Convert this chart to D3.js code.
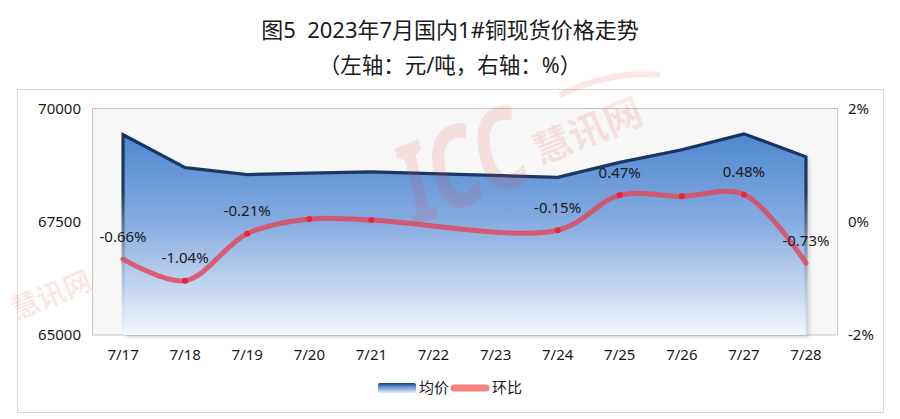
<!DOCTYPE html>
<html><head><meta charset="utf-8">
<script src="https://cdn.jsdelivr.net/npm/d3@7"></script>
<style>
html,body{margin:0;padding:0;background:#fff;}
svg{display:block;}
text{font-family:"Noto Sans","Noto Sans CJK SC",sans-serif;}
</style></head>
<body>
<svg id="chart" width="900" height="419"></svg>
<script>
const titleText = "图5  2023年7月国内1#铜现货价格走势";
const subtitleText = "（左轴：元/吨，右轴：%）";
const dates = ["7/17","7/18","7/19","7/20","7/21","7/22","7/23","7/24","7/25","7/26","7/27","7/28"];
const avgPrice = [69420, 68694, 68540, 68575, 68600, null, null, 68480, 68810, 69090, 69440, 68935];
const changePct = [-0.66, -1.04, -0.21, 0.05, 0.03, null, null, -0.15, 0.47, 0.45, 0.48, -0.73];
const labelShown = [true, true, true, false, false, false, false, true, true, false, true, true];
const leftTicks = [65000, 67500, 70000];
const rightTicks = [-2, 0, 2];
const seriesNames = ["均价", "环比"];

const svg = d3.select("#chart");
const W = 900, H = 419;
const plot = {left: 92, right: 837, top: 108.5, bottom: 335};
const pct = v => (v < 0 ? "-" : "") + Math.abs(v).toFixed(2) + "%";

const defs = svg.append("defs");
const fillGrad = defs.append("linearGradient").attr("id","areaFill")
  .attr("gradientUnits","userSpaceOnUse").attr("x1",0).attr("x2",0).attr("y1",130).attr("y2",335);
fillGrad.append("stop").attr("offset","0").attr("stop-color","#4b85cf");
fillGrad.append("stop").attr("offset","0.45").attr("stop-color","#86ace0");
fillGrad.append("stop").attr("offset","0.8").attr("stop-color","#c9daf1");
fillGrad.append("stop").attr("offset","1").attr("stop-color","#f5f8fd");
const strokeGrad = defs.append("linearGradient").attr("id","areaStroke")
  .attr("gradientUnits","userSpaceOnUse").attr("x1",0).attr("x2",0).attr("y1",130).attr("y2",335);
strokeGrad.append("stop").attr("offset","0").attr("stop-color","#16325c");
strokeGrad.append("stop").attr("offset","0.3").attr("stop-color","#1d3b66");
strokeGrad.append("stop").attr("offset","1").attr("stop-color","#dfe8f5").attr("stop-opacity",0.2);
const legGrad = defs.append("linearGradient").attr("id","legFill").attr("x1",0).attr("x2",0).attr("y1",0).attr("y2",1);
legGrad.append("stop").attr("offset","0").attr("stop-color","#1d3b66");
legGrad.append("stop").attr("offset","0.35").attr("stop-color","#5a8ad0");
legGrad.append("stop").attr("offset","1").attr("stop-color","#e6eef9");
const shadow = defs.append("filter").attr("id","shadow").attr("x","-10%").attr("y","-10%").attr("width","120%").attr("height","120%");
shadow.append("feDropShadow").attr("dx",3).attr("dy",2).attr("stdDeviation",2).attr("flood-color","#000").attr("flood-opacity",0.18);

// background
svg.append("rect").attr("width",W).attr("height",H).attr("fill","#fff");

// titles
svg.append("text").attr("x",450).attr("y",38).attr("text-anchor","middle")
  .attr("font-family","'Noto Sans CJK SC',sans-serif").attr("font-size",22).attr("fill","#1a1a1a")
  .attr("xml:space","preserve").text(titleText);
svg.append("text").attr("x",450).attr("y",73).attr("text-anchor","middle")
  .attr("font-family","'Noto Sans CJK SC',sans-serif").attr("font-size",21.5).attr("fill","#1a1a1a")
  .text(subtitleText);

// frame
svg.append("rect").attr("x",17.5).attr("y",89.5).attr("width",866).attr("height",323)
  .attr("fill","#fff").attr("stroke","#d9d9d9").attr("stroke-width",1);

// plot area
svg.append("rect").attr("x",plot.left+0.5).attr("y",plot.top).attr("width",plot.right-plot.left).attr("height",plot.bottom-plot.top)
  .attr("fill","#f7f7f7").attr("stroke","#c4c4c4").attr("stroke-width",1);

const x = d3.scaleBand().domain(dates).range([plot.left, plot.right]).padding(0);
const cx = d => x(d) + x.bandwidth()/2;
const yL = d3.scaleLinear().domain([65000, 70000]).range([plot.bottom, plot.top]);
const yR = d3.scaleLinear().domain([-2, 2]).range([plot.bottom, plot.top]);

// area
const priceData = dates.map((d,i)=>({d, v: avgPrice[i]})).filter(p=>p.v!==null);
const area = d3.area().x(p=>cx(p.d)).y0(plot.bottom).y1(p=>yL(p.v));
svg.append("path").datum(priceData).attr("d",area).attr("fill","url(#areaFill)")
  .attr("filter","url(#shadow)");
const outline = d3.line().x(p=>p[0]).y(p=>p[1]);
const pts = [[cx(priceData[0].d), plot.bottom]].concat(priceData.map(p=>[cx(p.d), yL(p.v)])).concat([[cx(priceData[priceData.length-1].d), plot.bottom]]);
svg.append("path").attr("d",outline(pts)).attr("fill","none").attr("stroke","url(#areaStroke)")
  .attr("stroke-width",3.2).attr("stroke-linejoin","miter");

// watermarks
const wm = svg.append("g").attr("fill","#e03a3a").attr("fill-opacity",0.13).attr("font-family","'Noto Sans CJK SC',sans-serif").attr("font-weight","bold");
wm.append("text").attr("transform","translate(412,228) rotate(-22) skewX(-8)").attr("font-size",112).attr("textLength",130).attr("lengthAdjust","spacingAndGlyphs").text("ICC");
wm.append("text").attr("transform","translate(540,165) rotate(-22)").attr("font-size",38).text("慧讯网");
wm.append("text").attr("transform","translate(16,320) rotate(-22)").attr("font-size",28).text("慧讯网");
wm.append("path").attr("d","M 560 95 Q 610 70 660 75").attr("fill","none").attr("stroke","#e03a3a").attr("stroke-opacity",0.13).attr("stroke-width",6);

// change line
const chgData = dates.map((d,i)=>({d, v: changePct[i], show: labelShown[i]})).filter(p=>p.v!==null);
const line = d3.line().x(p=>cx(p.d)).y(p=>yR(p.v)).curve(d3.curveCatmullRom.alpha(0.5));
svg.append("path").datum(chgData).attr("d",line).attr("fill","none")
  .attr("stroke","#e04a5e").attr("stroke-opacity",0.85).attr("stroke-width",5).attr("stroke-linecap","round");
svg.selectAll("circle.m").data(chgData.filter(p=>p.d!=="7/17" && p.d!=="7/28")).enter().append("circle")
  .attr("class","m").attr("cx",p=>cx(p.d)).attr("cy",p=>yR(p.v)).attr("r",3).attr("fill","#e8243a");

// data labels
svg.selectAll("text.lbl").data(chgData.filter(p=>p.show)).enter().append("text")
  .attr("class","lbl").attr("x",p=>cx(p.d)).attr("y",p=>yR(p.v)-17.5).attr("text-anchor","middle")
  .attr("font-size",15).attr("fill","#1a1a1a").text(p=>pct(p.v));

// axes
const axL = svg.append("g").attr("transform",`translate(${plot.left},0)`)
  .call(d3.axisLeft(yL).tickValues(leftTicks).tickSize(0).tickPadding(11).tickFormat(d3.format("d")));
const axR = svg.append("g").attr("transform",`translate(${plot.right},0)`)
  .call(d3.axisRight(yR).tickValues(rightTicks).tickSize(0).tickPadding(11).tickFormat(d=>(d<0?"-":"")+Math.abs(d)+"%"));
const axB = svg.append("g").attr("transform",`translate(0,${plot.bottom})`)
  .call(d3.axisBottom(x).tickSize(0).tickPadding(14));
[axL, axR, axB].forEach(a=>{
  a.select(".domain").remove();
  a.selectAll("text").attr("font-size",15).attr("fill","#1a1a1a").attr("font-family","'Noto Sans',sans-serif");
});

// legend
const lg = svg.append("g");
lg.append("rect").attr("x",378).attr("y",383).attr("width",38).attr("height",10).attr("rx",2)
  .attr("fill","url(#legFill)");
lg.append("text").attr("x",419).attr("y",393).attr("font-size",15).attr("fill","#1a1a1a")
  .attr("font-family","'Noto Sans CJK SC',sans-serif").text(seriesNames[0]);
lg.append("line").attr("x1",454).attr("x2",486).attr("y1",388).attr("y2",388)
  .attr("stroke","#f98080").attr("stroke-width",7).attr("stroke-linecap","round");
lg.append("text").attr("x",492).attr("y",393).attr("font-size",15).attr("fill","#1a1a1a")
  .attr("font-family","'Noto Sans CJK SC',sans-serif").text(seriesNames[1]);
</script>
</body></html>
